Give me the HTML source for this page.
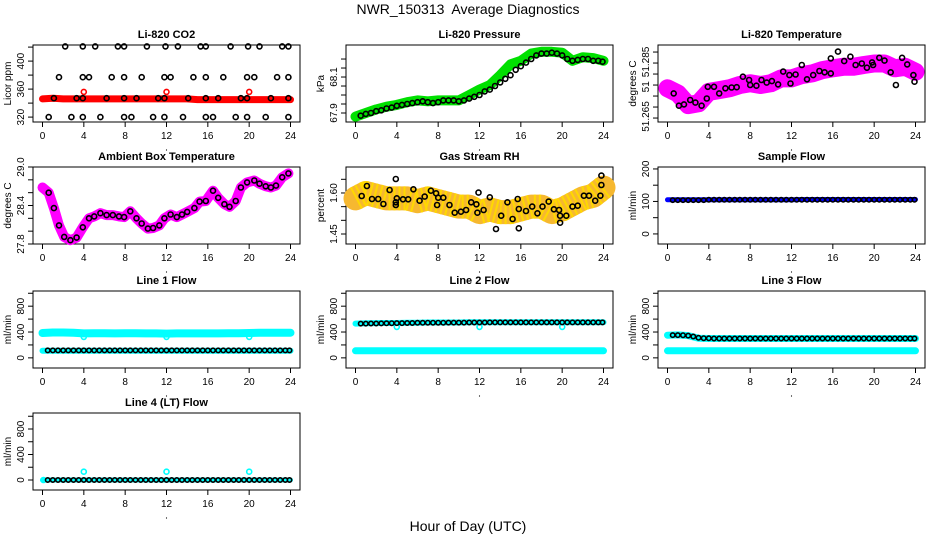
<!DOCTYPE html>
<html><head><meta charset="utf-8"><style>
html,body{margin:0;padding:0;background:#fff;}
svg{display:block;font-family:"Liberation Sans",sans-serif;}
</style></head><body>
<svg id="chart" width="936" height="540" viewBox="0 0 936 540" xmlns="http://www.w3.org/2000/svg">
<text x="468" y="14" text-anchor="middle" font-size="14">NWR_150313&#160; Average Diagnostics</text>
<text x="468" y="531" text-anchor="middle" font-size="14">Hour of Day (UTC)</text>
</svg>
<script>
// ---------- data ----------
const hourTicks = [0,4,8,12,16,20,24];
const bandHours = [0,1,2,3,4,5,6,7,8,9,10,11,12,13,14,15,16,17,18,19,20,21,22,23,24];
const halfHours = [0.5,1,1.5,2,2.5,3,3.5,4,4.5,5,5.5,6,6.5,7,7.5,8,8.5,9,9.5,10,10.5,11,11.5,12,12.5,13,13.5,14,14.5,15,15.5,16,16.5,17,17.5,18,18.5,19,19.5,20,20.5,21,21.5,22,22.5,23,23.5,23.9];

const co2Hours = [2.2,3.9,5.1,7.3,7.9,10.1,11.9,13.1,15.3,15.8,18.2,19.9,21,23.2,23.8, 1.6,3.9,4.5,6.7,7.9,9.6,11.8,12.4,14.6,15.8,17.5,19.8,20.5,22.7,23.8, 1.1,3.3,3.9,6.2,7.9,9.1,11.2,11.8,14.1,15.8,17,19.2,19.8,22.1,23.8, 0.6,2.8,3.9,5.6,7.9,8.6,10.7,11.8,13.6,15.8,16.5,18.7,19.8,21.6,23.8];
const co2Values = [421,421,421,421,421,421,421,421,421,421,421,421,421,421,421, 377,377,377,377,377,377,377,377,377,377,377,377,377,377,377, 347,347,347,347,347,347,347,347,347,347,347,347,347,347,347, 320,320,320,320,320,320,320,320,320,320,320,320,320,320,320];
const co2Band = [346,347,346,346,346,346,346,346,346,346,346,346,346,346,346,345,345,345,345,345,345,345,345,345,345];
const co2OutHours = [4,12,20];
const co2OutValues = [356,356,356];

const pressBand = [67.88,67.9,67.92,67.935,67.945,67.96,67.97,67.965,67.97,67.97,67.97,68.0,68.03,68.055,68.11,68.17,68.19,68.23,68.24,68.24,68.235,68.19,68.21,68.205,68.19];
const pressBlack = [67.885,67.895,67.9,67.91,67.915,67.925,67.93,67.94,67.945,67.95,67.955,67.96,67.965,67.96,67.955,67.96,67.97,67.97,67.97,67.965,67.97,67.98,67.99,68.0,68.02,68.03,68.05,68.07,68.09,68.11,68.14,68.16,68.18,68.2,68.22,68.23,68.23,68.235,68.23,68.22,68.2,68.19,68.195,68.2,68.2,68.19,68.19,68.185];

const tempBand = [51.2735,51.2712,51.2659,51.2667,51.2719,51.2727,51.2735,51.275,51.2758,51.275,51.2758,51.278,51.278,51.2795,51.2803,51.2818,51.2826,51.2833,51.2833,51.2841,51.2848,51.2848,51.2826,51.2833,51.281];
const tempHours = [0.6,1.1,1.6,2.2,2.7,3.3,3.8,3.9,4.5,5,5.6,6.2,6.7,7.3,7.9,8,8.6,9.1,9.6,10.1,10.7,11.2,11.8,11.9,12.4,13,13.5,14.1,14.7,15.2,15.8,15.8,16.5,17.1,17.7,18.2,18.8,19.3,19.8,19.9,20.5,21,21.6,22.1,22.7,23.2,23.8,23.9];
const tempBlack = [51.2712,51.2656,51.2662,51.2682,51.267,51.2656,51.2689,51.2742,51.2742,51.2712,51.2735,51.2739,51.274,51.2788,51.2773,51.275,51.2747,51.2773,51.2761,51.2768,51.2753,51.2811,51.2795,51.2757,51.2798,51.2841,51.2776,51.2795,51.2814,51.2808,51.2803,51.2871,51.2902,51.2859,51.2879,51.2841,51.2848,51.2829,51.2853,51.2841,51.2874,51.2861,51.2808,51.275,51.2874,51.2844,51.2795,51.2765];

const ambHours = [0.6,1.1,1.6,2.1,2.7,3.3,3.9,4.5,5,5.6,6.2,6.8,7.4,7.9,8.5,9.1,9.6,10.2,10.7,11.3,11.8,12.4,13,13.5,14,14.7,15.2,15.8,16.5,17,17.6,18.1,18.7,19.2,19.8,20.5,21,21.6,22.1,22.6,23.2,23.8];
const ambBlack = [28.6,28.36,28.09,27.91,27.86,27.9,28.06,28.2,28.23,28.28,28.25,28.25,28.23,28.22,28.31,28.2,28.12,28.04,28.05,28.09,28.2,28.26,28.22,28.26,28.3,28.36,28.46,28.47,28.63,28.52,28.42,28.38,28.47,28.68,28.76,28.79,28.74,28.7,28.68,28.71,28.84,28.9];
const ambBandHours = [0,0.6,1.1,1.6,2.1,2.7,3.3,3.9,4.5,5,5.6,6.2,6.8,7.4,7.9,8.5,9.1,9.6,10.2,10.7,11.3,11.8,12.4,13,13.5,14,14.7,15.2,15.8,16.5,17,17.6,18.1,18.7,19.2,19.8,20.5,21,21.6,22.1,22.6,23.2,23.8];
const ambBand = [28.68,28.6,28.36,28.09,27.91,27.86,27.9,28.06,28.2,28.23,28.28,28.25,28.25,28.23,28.22,28.31,28.2,28.12,28.04,28.05,28.09,28.2,28.26,28.22,28.26,28.3,28.36,28.46,28.47,28.63,28.52,28.42,28.38,28.47,28.68,28.76,28.79,28.74,28.7,28.68,28.71,28.84,28.9];

const rhBand = [1.58,1.6,1.59,1.58,1.58,1.58,1.57,1.58,1.57,1.56,1.55,1.55,1.53,1.54,1.53,1.53,1.54,1.55,1.55,1.53,1.54,1.56,1.58,1.59,1.62];
const rhHours = [0.6,1.1,1.6,2.2,2.7,3.3,3.9,3.9,3.9,4,4.6,5.1,5.6,6.2,6.7,7.3,7.8,7.9,8,8.5,9.1,9.6,10.2,10.7,11.2,11.7,11.8,11.9,12.4,13,13.6,14.1,14.7,15.2,15.7,15.8,15.8,16.5,17.1,17.6,18.1,18.7,19.2,19.7,19.8,19.8,20.4,21,21.5,22.1,22.6,23.2,23.7,23.8,23.8];
const rhBlack = [1.589,1.6256,1.578,1.578,1.5597,1.611,1.6512,1.5658,1.556,1.5805,1.5768,1.5768,1.6134,1.5719,1.5866,1.6085,1.5988,1.556,1.5829,1.5829,1.556,1.528,1.5317,1.5378,1.5658,1.5585,1.528,1.6012,1.5378,1.5842,1.4682,1.517,1.5658,1.5048,1.578,1.5414,1.4707,1.5341,1.55,1.5256,1.55,1.5683,1.5402,1.5378,1.517,1.4914,1.517,1.55,1.5536,1.5902,1.5902,1.5719,1.5902,1.6293,1.6634];

const sampleBand = [105,105,105,105,105,105,105,105,105,105,105,105,105,106,106,106,106,106,106,106,106,106,106,106,106];
const sampleBlack = [104,104,104,104,104,104,104,105,105,105,105,105,105,105,105,105,105,105,105,105,105,105,105,105,105,105,105,105,105,105,105,105,105,105,105,105,105,105,105,105,105,105,105,105,105,105,105,105];

const line1High = [385,392,392,388,378,380,380,378,380,380,378,378,375,378,378,378,378,378,380,382,385,388,388,388,390];
const line1Low = [110,110,110,110,110,110,110,110,110,110,110,110,110,110,110,110,110,110,110,110,110,110,110,110,110];
const line1Black = [115,115,115,115,115,115,115,115,115,115,115,115,115,115,115,115,115,115,115,115,115,115,115,115,115,115,115,115,115,115,115,115,115,115,115,115,115,115,115,115,115,115,115,115,115,115,115,115];
const line1DipHours = [4,12,20];
const line1DipValues = [325,325,325];

const line2High = [530,535,538,540,540,545,545,548,548,548,548,550,550,550,550,550,550,550,550,550,550,550,550,550,550];
const line2Low = [110,110,110,110,110,110,110,110,110,110,110,110,110,110,110,110,110,110,110,110,110,110,110,110,110];
const line2Black = [530,530,532,532,534,535,536,538,538,540,540,542,542,544,545,545,545,546,546,546,546,547,548,548,548,549,549,549,549,549,549,549,549,549,549,549,549,549,549,549,549,549,549,549,549,549,549,549];
const line2DipHours = [4,12,20];
const line2DipValues = [480,480,480];

const line3High = [350,355,345,305,300,300,300,300,300,300,300,300,300,300,300,300,300,300,300,300,300,300,300,300,300];
const line3Low = [110,110,110,110,110,110,110,110,110,110,110,110,110,110,110,110,110,110,110,110,110,110,110,110,110];
const line3Black = [352,352,350,345,330,310,305,302,300,300,300,300,300,300,300,300,300,300,300,300,300,300,300,300,300,300,300,300,300,300,300,300,300,300,300,300,300,300,300,300,300,300,300,300,300,300,300,300];

const line4Low = [0,0,0,0,0,0,0,0,0,0,0,0,0,0,0,0,0,0,0,0,0,0,0,0,0];
const line4Black = [0,0,0,0,0,0,0,0,0,0,0,0,0,0,0,0,0,0,0,0,0,0,0,0,0,0,0,0,0,0,0,0,0,0,0,0,0,0,0,0,0,0,0,0,0,0,0,0];
const line4OutHours = [0.1,4,12,20];
const line4OutValues = [0,130,130,130];

// ---------- drawing ----------
const NS = "http://www.w3.org/2000/svg";
const svg = document.getElementById("chart");
const colLeft = [33,346,658];
const rowTop = [45,167,291,413];
const BW = 267, BH = 77;

function mk(tag, attrs, parent){
  const e = document.createElementNS(NS, tag);
  for (const k in attrs) e.setAttribute(k, attrs[k]);
  (parent||svg).appendChild(e);
  return e;
}

function panel(col,row,title,ylab,ymin,ymax,ticks,labels){
  const L = colLeft[col], T = rowTop[row];
  const g = mk("g",{});
  
  
  const xs = h => L + 9.5 + h*(BW-19)/24;
  const ys = v => T + BH - (v-ymin)/(ymax-ymin)*BH;
  const t = mk("text",{x:L+BW/2,y:T-7,"text-anchor":"middle","font-size":"11","font-weight":"bold"},g);
  t.textContent = title;
  
  
  const box = mk("rect",{x:L,y:T,width:BW,height:BH,fill:"none",stroke:"#000","stroke-width":"1"},g);
  
  
  const xa = mk("g",{},g);
  
  
  hourTicks.forEach(h=>{
    mk("line",{x1:xs(h),x2:xs(h),y1:T+BH,y2:T+BH+5,stroke:"#000"},xa);
    const tx = mk("text",{x:xs(h),y:T+BH+17,"text-anchor":"middle","font-size":"10"},xa);
    tx.textContent = h;
    
    
  });
  mk("circle",{cx:L+BW/2,cy:T+BH+28,r:0.6,fill:"#000"},xa);
  const ya = mk("g",{},g);
  
  
  ticks.forEach(v=>{
    mk("line",{x1:L,x2:L-5,y1:ys(v),y2:ys(v),stroke:"#000"},ya);
  });
  labels.forEach(([v,s])=>{
    const tx = mk("text",{x:0,y:0,"text-anchor":"middle","font-size":"10",transform:`translate(${L-9},${ys(v)}) rotate(-90)`},ya);
    tx.textContent = s;
    
    
  });
  const yl = mk("text",{x:0,y:0,"text-anchor":"middle","font-size":"10",transform:`translate(${L-22},${T+BH/2}) rotate(-90)`},g);
  yl.textContent = ylab;
  
  
  return {g,xs,ys};
}

function band(p,hours,vals,color,width,name,extra){
  const pts = hours.map((h,i)=>p.xs(h).toFixed(1)+","+p.ys(vals[i]).toFixed(1)).join(" ");
  const a = {points:pts,fill:"none",stroke:color,"stroke-width":width,"stroke-linejoin":"round","stroke-linecap":"round"};
  if (extra) for (const k in extra) a[k]=extra[k];
  const pl = mk("polyline",a,p.g);
  
  
}
function pts(p,hours,vals,color,name,r){
  const gg = mk("g",{},p.g);
  
  
  hours.forEach((h,i)=>{
    const c = mk("circle",{cx:p.xs(h).toFixed(1),cy:p.ys(vals[i]).toFixed(1),r:r||2.5,fill:"none",stroke:color,"stroke-width":"1.6"},gg);
    
    
  });
}
function rng(a,b,s){const r=[];for(let v=a;v<=b+1e-9;v+=s)r.push(+v.toFixed(4));return r;}

let p = panel(0,0,"Li-820 CO2","Licor ppm",313,423,rng(320,420,20),[[320,"320"],[360,"360"],[400,"400"]]);
band(p,bandHours,co2Band,"#ff0000",7,"co2-band");
pts(p,co2OutHours,co2OutValues,"#ff0000","co2-outliers");
pts(p,co2Hours,co2Values,"#000","co2-average-points");

p = panel(1,0,"Li-820 Pressure","kPa",67.85,68.278,rng(67.9,68.2,0.05),[[67.9,"67.9"],[68.1,"68.1"]]);
band(p,bandHours,pressBand,"#00e000",10,"pressure-band");
pts(p,halfHours,pressBlack,"#000","pressure-average-points");

p = panel(2,0,"Li-820 Temperature","degrees C",51.2582,51.2932,rng(51.26,51.29,0.005),[[51.2855,"51.285"],[51.2742,"51"],[51.2607,"51.265"]]);
band(p,bandHours,tempBand,"#ff00ff",18,"temperature-band");
pts(p,tempHours,tempBlack,"#000","temperature-average-points");

p = panel(0,1,"Ambient Box Temperature","degrees C",27.8,29.0,rng(27.8,29.0,0.2),[[27.8,"27.8"],[28.4,"28.4"],[29.0,"29.0"]]);
band(p,ambBandHours,ambBand,"#ff00ff",10,"ambient-band");
pts(p,ambHours,ambBlack,"#000","ambient-average-points");

p = panel(1,1,"Gas Stream RH","percent",1.4134,1.695,rng(1.45,1.65,0.05),[[1.45,"1.45"],[1.6,"1.60"]]);
band(p,bandHours,rhBand,"#f6b830",24,"rh-band");
band(p,bandHours,rhBand,"#ffd800",24,"rh-band-speckle",{"stroke-dasharray":"2 3","stroke-linecap":"butt"});
pts(p,rhHours,rhBlack,"#000","rh-average-points");

p = panel(2,1,"Sample Flow","ml/min",-31,206,rng(0,200,50),[[0,"0"],[100,"100"],[200,"200"]]);
band(p,bandHours,sampleBand,"#0000ff",5,"sample-flow-band");
pts(p,halfHours,sampleBlack,"#000","sample-flow-average-points",2.2);

const flowTicks = rng(0,1000,200), flowLabels=[[0,"0"],[400,"400"],[800,"800"]];
p = panel(0,2,"Line 1 Flow","ml/min",-157,1035,flowTicks,flowLabels);
band(p,bandHours,line1High,"#00ffff",8,"line1-flow-band");
band(p,bandHours,line1Low,"#00ffff",6,"line1-pressure-band");
pts(p,line1DipHours,line1DipValues,"#00ffff","line1-dips");
pts(p,halfHours,line1Black,"#000","line1-average-points",2.2);

p = panel(1,2,"Line 2 Flow","ml/min",-157,1035,flowTicks,flowLabels);
band(p,bandHours,line2High,"#00ffff",6,"line2-flow-band");
band(p,bandHours,line2Low,"#00ffff",7,"line2-pressure-band");
pts(p,line2DipHours,line2DipValues,"#00ffff","line2-dips");
pts(p,halfHours,line2Black,"#000","line2-average-points",2.2);

p = panel(2,2,"Line 3 Flow","ml/min",-157,1035,flowTicks,flowLabels);
band(p,bandHours,line3High,"#00ffff",7,"line3-flow-band");
band(p,bandHours,line3Low,"#00ffff",7,"line3-pressure-band");
pts(p,halfHours,line3Black,"#000","line3-average-points",2.2);

p = panel(0,3,"Line 4 (LT) Flow","ml/min",-157,1051,flowTicks,flowLabels);
band(p,bandHours,line4Low,"#00ffff",5,"line4-flow-band");
pts(p,line4OutHours,line4OutValues,"#00ffff","line4-outliers");
pts(p,halfHours,line4Black,"#000","line4-average-points",2.2);
</script>
</body></html>
